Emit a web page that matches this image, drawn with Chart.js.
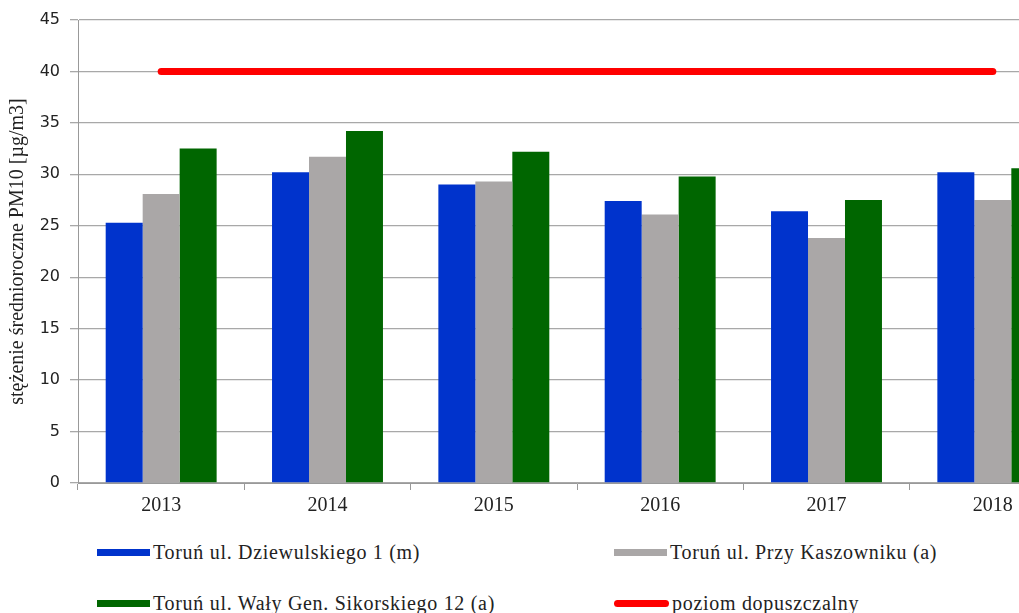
<!DOCTYPE html>
<html>
<head>
<meta charset="utf-8">
<script src="https://cdn.jsdelivr.net/npm/chart.js@4/dist/chart.umd.min.js"></script>
<style>
  html, body { margin: 0; padding: 0; background: #fff; overflow: hidden; }
  #wrap { position: relative; width: 1080px; height: 613px; }
  #box { position: absolute; left: 0; top: 0; width: 1080px; height: 521px; }
  .leg { position: absolute; font-family: "Liberation Serif", serif; font-size: 20px; letter-spacing: 0.7px; color: #222; white-space: nowrap; line-height: 22px; }
  .sw { display: inline-block; width: 53px; height: 7px; vertical-align: middle; margin-right: 3px; position: relative; top: -2px; }
</style>
</head>
<body>
<div id="wrap">
  <div id="box"><canvas id="chart"></canvas></div>
  <div id="legend"></div>
</div>
<script>
// dane
var years = ['2013', '2014', '2015', '2016', '2017', '2018'];
var dziewulskiego = [25.3, 30.2, 29.0, 27.4, 26.4, 30.2];
var kaszowniku = [28.1, 31.7, 29.3, 26.1, 23.8, 27.5];
var sikorskiego = [32.5, 34.2, 32.2, 29.8, 27.5, 30.6];
var dopuszczalny = [40, 40, 40, 40, 40, 40];
var yTicks = [0, 5, 10, 15, 20, 25, 30, 35, 40, 45];

var names = ['Toruń ul. Dziewulskiego 1 (m)', 'Toruń ul. Przy Kaszowniku (a)',
             'Toruń ul. Wały Gen. Sikorskiego 12 (a)', 'poziom dopuszczalny'];
var colors = ['#0033cc', '#aaa7a7', '#006600', '#ff0000'];

var ctx = document.getElementById('chart').getContext('2d');
var config = {
    data: {
        labels: years,
        datasets: [
            { type: 'line', label: names[3], data: dopuszczalny, borderColor: colors[3],
              borderWidth: 7, borderCapStyle: 'round', pointRadius: 0, fill: false, order: 0 },
            { type: 'bar', label: names[0], data: dziewulskiego, backgroundColor: colors[0], order: 1 },
            { type: 'bar', label: names[1], data: kaszowniku, backgroundColor: colors[1], order: 1 },
            { type: 'bar', label: names[2], data: sikorskiego, backgroundColor: colors[2], order: 1 }
        ]
    },
    options: {
        responsive: true,
        maintainAspectRatio: false,
        animation: false,
        layout: { padding: { top: 20, left: 0, right: 4, bottom: 0 } },
        datasets: { bar: { categoryPercentage: 0.667, barPercentage: 1.0 } },
        plugins: { legend: { display: false }, tooltip: { enabled: false } },
        scales: {
            x: {
                grid: { display: true, drawOnChartArea: false, offset: true, tickLength: 7, color: '#999' },
                border: { color: '#999' },
                ticks: { color: '#222', font: { family: 'Liberation Serif', size: 20 }, padding: 4 },
                afterFit: function(scale) { scale.height = 38; }
            },
            y: {
                min: 0, max: 45,
                afterBuildTicks: function(scale) { scale.ticks = yTicks.map(function(v) { return { value: v }; }); },
                grid: { color: '#a8a8a8', tickLength: 8, lineWidth: 1.3 },
                border: { color: '#999' },
                ticks: { color: '#222', font: { family: 'DejaVu Sans', size: 16 }, padding: 10 },
                title: { display: true, text: 'stężenie średnioroczne PM10 [µg/m3]', color: '#222',
                         font: { family: 'Liberation Serif', size: 20 }, padding: { top: 6, bottom: 0 } },
                afterFit: function(scale) { scale.width = 78; }
            }
        }
    }
};
window.myChart = new Chart(ctx, config);

// legenda (2 kolumny, jak w oryginale)
var legPos = [[97, 541, 0], [614, 541, 1], [97, 592, 2], [614, 592, 3]];
var legend = document.getElementById('legend');
legPos.forEach(function(p) {
    var d = document.createElement('div');
    d.className = 'leg';
    d.style.left = p[0] + 'px';
    d.style.top = p[1] + 'px';
    var sw = document.createElement('span');
    sw.className = 'sw';
    sw.style.background = colors[p[2]];
    if (p[2] === 3) { sw.style.borderRadius = '4px'; sw.style.width = '55px'; }
    d.appendChild(sw);
    d.appendChild(document.createTextNode(names[p[2]]));
    legend.appendChild(d);
});
</script>
</body>
</html>
